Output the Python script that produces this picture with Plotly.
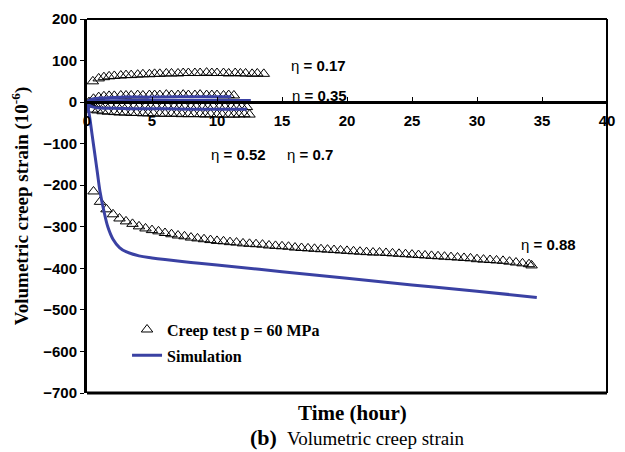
import plotly.graph_objects as go

# ---------------- data ----------------
t_017 = [0.45, 0.9, 1.3, 1.7, 2.1, 2.6, 3.0, 3.4, 3.9, 4.3, 4.8, 5.2, 5.6, 6.1, 6.5, 7.0,
         7.4, 7.8, 8.3, 8.7, 9.2, 9.6, 10.0, 10.5, 10.9, 11.4, 11.8, 12.2, 12.7, 13.1, 13.6]
v_017 = [50, 57, 60, 62, 63, 64, 65, 65, 66, 67, 67, 68, 68, 69, 69, 69,
         70, 70, 70, 70, 71, 70, 70, 70, 69, 70, 69, 69, 68, 69, 68]

t_035 = [0.15, 0.5, 0.9, 1.3, 1.7, 2.1, 2.6, 3.0, 3.4, 3.9, 4.3, 4.8, 5.2, 5.6, 6.1, 6.5,
         7.0, 7.4, 7.8, 8.3, 8.7, 9.2, 9.6, 10.0, 10.5, 10.9, 11.3]
v_035 = [0, 8, 12, 14, 15, 15, 16, 16, 16, 17, 16, 17, 17, 17, 18, 17,
         17, 18, 17, 17, 18, 17, 17, 17, 16, 17, 16]

t_052 = [0.2, 0.6, 1.0, 1.4, 1.8, 2.3, 2.7, 3.1, 3.6, 4.0, 4.5, 4.9, 5.3, 5.8, 6.2, 6.7,
         7.1, 7.5, 8.0, 8.4, 8.9, 9.3, 9.7, 10.2, 10.6, 11.1, 11.5, 11.9, 12.3]
v_052 = [-2, -5, -7, -8, -8, -9, -9, -9, -10, -10, -10, -10, -10, -11, -10, -11,
         -11, -10, -11, -11, -11, -11, -10, -11, -11, -11, -10, -11, -12]

t_070 = [0.4, 0.8, 1.2, 1.6, 2.1, 2.5, 2.9, 3.4, 3.8, 4.3, 4.7, 5.1, 5.6, 6.0, 6.5, 6.9,
         7.3, 7.8, 8.2, 8.7, 9.1, 9.5, 10.0, 10.4, 10.9, 11.3, 11.7, 12.1, 12.5]
v_070 = [-18, -20, -22, -23, -24, -25, -25, -26, -26, -27, -27, -27, -28, -28, -28, -28,
         -29, -29, -29, -29, -30, -29, -30, -30, -30, -30, -30, -29, -30]

t_088 = [0.5, 1.0, 1.5, 2.0, 2.5, 3.0, 3.5, 4.0, 4.5, 5.0, 5.5, 6.0, 6.5, 7.0, 7.5, 8.0,
         8.5, 9.0, 9.5, 10.0, 10.5, 11.0, 11.5, 12.0, 12.5, 13.0, 13.5, 14.0, 14.5, 15.0,
         15.5, 16.0, 16.5, 17.0, 17.5, 18.0, 18.5, 19.0, 19.5, 20.0, 20.5, 21.0, 21.5,
         22.0, 22.5, 23.0, 23.5, 24.0, 24.5, 25.0, 25.5, 26.0, 26.5, 27.0, 27.5, 28.0,
         28.5, 29.0, 29.5, 30.0, 30.5, 31.0, 31.5, 32.0, 32.5, 33.0, 33.5, 34.0, 34.2]
v_088 = [-215, -240, -258, -270, -280, -287, -293, -299, -304, -308, -311, -315, -318,
         -321, -323, -326, -328, -330, -332, -334, -335, -337, -338, -340, -341, -342,
         -343, -345, -346, -347, -348, -350, -351, -352, -353, -354, -355, -356, -357,
         -358, -359, -360, -361, -362, -362, -363, -364, -365, -366, -367, -368, -369,
         -370, -371, -372, -373, -374, -375, -376, -378, -379, -380, -381, -382, -384,
         -386, -388, -390, -393]

# simulations
ts_a = [0, 0.2, 0.5, 1, 2, 3, 5, 7, 9, 11.1]
vs_a = [0, 5, 8, 10, 11, 12, 12, 13, 13, 13]
ts_b = [0, 0.3, 1, 2, 4, 6, 8, 10, 12.6]
vs_b = [0, 2, 3, 3, 4, 4, 4, 4, 4]
ts_c = [0, 0.2, 0.5, 1, 2, 4, 6, 8, 10, 12.3]
vs_c = [0, -8, -12, -14, -15, -16, -16, -17, -17, -17]
ts_088 = [0, 0.2, 0.4, 0.6, 0.8, 1.0, 1.3, 1.6, 2.0, 2.5, 3, 4, 5, 6, 8, 10, 15, 20, 25, 30, 34.6]
vs_088 = [0, -35, -80, -125, -170, -215, -262, -300, -330, -350, -360, -370, -375, -379,
          -386, -392, -408, -424, -440, -455, -470]

eta_labels = ["0.17", "0.35", "0.52", "0.7", "0.88"]
eta_x = [15.5, 15.6, 9.4, 15.2, 33.2]
eta_y = [89, 15, -125, -125, -343]

x_ticks = [0, 5, 10, 15, 20, 25, 30, 35, 40]
y_ticks = [200, 100, 0, -100, -200, -300, -400, -500, -600, -700]

BLUE = "#3a41a3"
SERIF = "Liberation Serif, Times New Roman, serif"
SANS = "Liberation Sans, Arial, sans-serif"

fig = go.Figure()

tests = [(t_017, v_017), (t_035, v_035), (t_052, v_052), (t_070, v_070), (t_088, v_088)]
for i, (tt, vv) in enumerate(tests):
    fig.add_trace(go.Scatter(
        x=tt, y=vv, mode="markers",
        marker=dict(symbol="triangle-up-open", size=10, color="black", line=dict(width=1)),
        name="Creep test p = 60 MPa", showlegend=(i == 0), legendgroup="test"))

sims = [(ts_a, vs_a), (ts_b, vs_b), (ts_c, vs_c), (ts_088, vs_088)]
for i, (tt, vv) in enumerate(sims):
    fig.add_trace(go.Scatter(
        x=tt, y=vv, mode="lines", line=dict(color=BLUE, width=3, shape="spline"),
        name="Simulation", showlegend=(i == 0), legendgroup="sim"))

tickfont = dict(family=SANS, size=15, color="black", weight="bold")

fig.update_layout(
    width=625, height=452,
    margin=dict(l=87, r=10, t=19, b=59),
    plot_bgcolor="white", paper_bgcolor="white",
    showlegend=True,
    legend=dict(x=0.077, y=0.215, xanchor="left", yanchor="top",
                font=dict(family=SERIF, size=16, color="black", weight="bold"),
                bgcolor="rgba(0,0,0,0)", tracegroupgap=2),
    xaxis=dict(range=[0, 40], tickvals=x_ticks, anchor="free", position=700 / 900,
               showline=True, linecolor="black", linewidth=3,
               ticks="inside", ticklen=4, tickwidth=1, tickcolor="black",
               ticklabelstandoff=4,
               showgrid=False, zeroline=False, tickfont=tickfont),
    yaxis=dict(range=[-700, 200], tickvals=y_ticks, showline=True, linecolor="black",
               linewidth=3, ticks="outside", ticklen=4, tickwidth=1, tickcolor="black",
               showgrid=False, zeroline=False, tickfont=tickfont,
               title=dict(text="Volumetric creep strain (10<sup>-6</sup>)",
                          font=dict(family=SERIF, size=19, color="black", weight="bold"),
                          standoff=10)),
)

# frame
fig.add_shape(type="line", xref="x domain", yref="y domain", x0=0, x1=1, y0=1, y1=1,
              line=dict(color="black", width=2))
fig.add_shape(type="line", xref="x domain", yref="y domain", x0=1, x1=1, y0=0, y1=1,
              line=dict(color="black", width=2))
fig.add_shape(type="line", xref="x domain", yref="y domain", x0=0, x1=1, y0=0, y1=0,
              line=dict(color="black", width=3))

for lab, xx, yy in zip(eta_labels, eta_x, eta_y):
    fig.add_annotation(x=xx, y=yy, xref="x", yref="y", text="η <b>= " + lab + "</b>",
                       showarrow=False, xanchor="left", yanchor="middle",
                       font=dict(family=SANS, size=15, color="black"))

fig.add_annotation(x=0.51, y=-0.016, xref="paper", yref="paper", yanchor="top",
                   text="<b>Time (hour)</b>", showarrow=False,
                   font=dict(family=SERIF, size=21, color="black"))
fig.add_annotation(x=0.309, y=-0.080, xref="paper", yref="paper", yanchor="top",
                   xanchor="left", text="<b>(b)</b>", showarrow=False,
                   font=dict(family=SERIF, size=22, color="black"))
fig.add_annotation(x=0.381, y=-0.088, xref="paper", yref="paper", yanchor="top",
                   xanchor="left", text="Volumetric creep strain", showarrow=False,
                   font=dict(family=SERIF, size=19, color="black"))

fig.write_html("out.html")
